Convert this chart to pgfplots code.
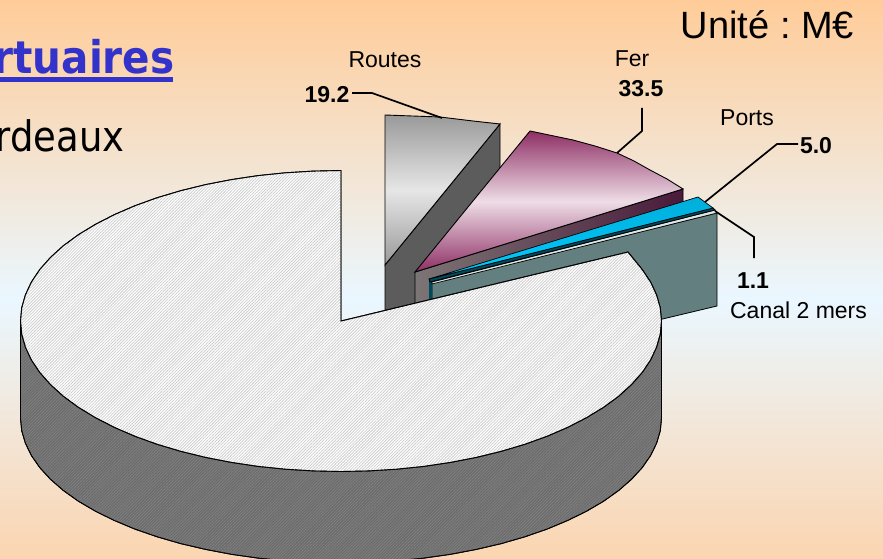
\documentclass[border=0pt]{standalone}
\usepackage{fontspec}
\usepackage{pgfplots}
\pgfplotsset{compat=1.18}
\usetikzlibrary{patterns.meta}
\setmainfont{Liberation Sans}
\newfontfamily\taho[FakeStretch=0.88]{DejaVu Sans}
\newfontfamily\tahob[FakeStretch=0.9]{DejaVu Sans Bold}
\frenchspacing
\definecolor{bgO}{HTML}{FFCC99}
\definecolor{bgB}{HTML}{EAF7FF}
\definecolor{bgE}{HTML}{FBD5B0}
\definecolor{linkb}{HTML}{3333CC}
\definecolor{plum}{HTML}{8E2F65}
\definecolor{plumL}{HTML}{EEDDE6}
\definecolor{plumD}{HTML}{4A1A3A}
\definecolor{greyW}{HTML}{7C7575}
\definecolor{teal1}{HTML}{637F7F}
\definecolor{teal2}{HTML}{004A5C}
\definecolor{cy1}{HTML}{00AEDB}
\definecolor{cy2}{HTML}{00CCFF}
\definecolor{grA}{HTML}{9A9A9A}
\definecolor{grB}{HTML}{E6E6E6}
\pgfdeclareverticalshading{plumsh}{100bp}{color(0bp)=(plum); color(25bp)=(plum); color(50bp)=(plumL); color(75bp)=(plum); color(100bp)=(plum)}
\pgfdeclareverticalshading{greysh}{100bp}{color(0bp)=(grA); color(25bp)=(grA); color(50bp)=(grB); color(75bp)=(grA); color(100bp)=(grA)}
\newcommand{\lab}[1]{\fontsize{23}{27}\selectfont #1}
\newcommand{\labb}[1]{\fontsize{23}{27}\selectfont\bfseries #1}
\begin{document}
\begin{tikzpicture}
\useasboundingbox (0,0) rectangle (883pt,559pt);
\clip (0,0) rectangle (883pt,559pt);
\shade[top color=bgO,bottom color=bgB] (0,259pt) rectangle (883pt,559pt);
\shade[top color=bgB,bottom color=bgE] (0,0) rectangle (883pt,259.5pt);
\begin{axis}[at={(0,0)},anchor=south west,scale only axis,width=883pt,height=559pt,
  xmin=0,xmax=883,ymin=0,ymax=559,y dir=reverse,hide axis,clip=true]
% Routes
\addplot[draw=black,line width=0.9pt,fill=black!64] coordinates {(385,265)(500,124)(500,224)(385,365)} -- cycle;
\addplot[draw=black,line width=0.9pt,shade,shading=greysh] coordinates {(385,265)(385,115)(440,117)(473,121)(500,124)} -- cycle;
% Fer
\addplot[draw=black,line width=0.9pt,left color=greyW,right color=plumD] coordinates {(415,272)(683,189)(683,289)(415,372)} -- cycle;
\addplot[draw=black,line width=0.9pt,shade,shading=plumsh] coordinates {(415,272)(530,131)(573,140)(595,146)(617,153)(634,161)(650,170)(667,179)(683,189)} -- cycle;
% Canal 2 mers
\addplot[draw=black,line width=0.8pt,fill=teal1] coordinates {(432,283)(717,213)(717,306)(650,322)(432,375)} -- cycle;
\addplot[draw=none,fill=teal2] coordinates {(429,279)(432,281)(432,375)(429,375)} -- cycle;
\addplot[draw=black,line width=0.7pt,fill=white!80!teal1] coordinates {(432,282)(715,210)(717,213)(432,284)} -- cycle;
% Ports
\addplot[draw=black,line width=0.8pt,fill=teal2] coordinates {(429,279)(713,208)(715,210)(430,282)} -- cycle;
\addplot[draw=black,line width=0.7pt,top color=cy1,bottom color=cy2] coordinates {(429,279)(698,197)(713,208)} -- cycle;
% main wall
\addplot[draw=black,line width=0.9pt,fill=black!58,postaction={pattern={Lines[angle=45,distance=2.1pt,line width=0.8pt]},pattern color=black!50}] coordinates {
(20.5,321)(20.5,418)(21.7,430.6)(25.4,443.2)(31.4,455.5)(39.8,467.6)(50.5,479.3)(63.4,490.5)(78.4,501.2)(95.5,511.2)(114.4,520.5)(135,529.1)(157.2,536.8)(180.7,543.6)(205.6,549.4)(231.4,554.3)(258.1,558.1)(285.3,560.8)(313.1,562.4)(341,563)(368.9,562.4)(396.7,560.8)(423.9,558.1)(450.6,554.3)(476.4,549.4)(501.3,543.6)(524.8,536.8)(547,529.1)(567.6,520.5)(586.5,511.2)(603.6,501.2)(618.6,490.5)(631.5,479.3)(642.2,467.6)(650.6,455.5)(656.6,443.2)(660.3,430.6)(661.5,418)(661.5,321)} -- cycle;
% main top
\addplot[draw=black,line width=0.9pt,fill=white,postaction={pattern={Lines[angle=45,distance=2.1pt,line width=0.8pt]},pattern color=black!19}] coordinates {
(341,321)(341,170.5)(313.1,171.1)(285.3,172.8)(258.1,175.6)(231.4,179.6)(205.6,184.6)(180.7,190.7)(157.2,197.7)(135,205.7)(114.4,214.6)(95.5,224.3)(78.4,234.7)(63.4,245.7)(50.5,257.4)(39.8,269.5)(31.4,282)(25.4,294.9)(21.7,307.9)(20.5,321)(21.7,334.1)(25.4,347.1)(31.4,360)(39.8,372.5)(50.5,384.6)(63.4,396.3)(78.4,407.3)(95.5,417.7)(114.4,427.4)(135,436.3)(157.2,444.3)(180.7,451.3)(205.6,457.4)(231.4,462.4)(258.1,466.4)(285.3,469.2)(313.1,470.9)(341,471.5)(368.9,470.9)(396.7,469.2)(423.9,466.4)(450.6,462.4)(476.4,457.4)(501.3,451.3)(524.8,444.3)(547,436.3)(567.6,427.4)(586.5,417.7)(603.6,407.3)(618.6,396.3)(631.5,384.6)(642.2,372.5)(650.6,360)(656.6,347.1)(660.3,334.1)(661.5,321)(660.3,307.9)(656.6,294.9)(650.6,282)(642.2,269.5)(628,252)} -- cycle;
% leaders
\addplot[black,line width=1.7pt] coordinates {(352,93)(372,93)(442,118)};
\addplot[black,line width=1.7pt] coordinates {(642,108)(642,131)(617,153)};
\addplot[black,line width=1.7pt] coordinates {(798,144)(777,144)(705,202)};
\addplot[black,line width=1.7pt] coordinates {(754,258)(754,237)(715,211)};
% underline
\addplot[linkb,line width=4.3pt] coordinates {(0,79.5)(173,79.5)};
\end{axis}
\begin{axis}[at={(0,0)},anchor=south west,scale only axis,width=883pt,height=559pt,
  xmin=0,xmax=883,ymin=0,ymax=559,y dir=reverse,hide axis,clip=false,
  every node/.append style={inner sep=0pt,outer sep=0pt}]
\node[anchor=base] at (axis cs:385,68) {\lab{Routes}};
\node[anchor=base] at (axis cs:632,67) {\lab{Fer}};
\node[anchor=base] at (axis cs:747,126) {\lab{Ports}};
\node[anchor=base] at (axis cs:798.5,319) {\lab{Canal 2 mers}};
\node[anchor=base] at (axis cs:327,103) {\labb{19.2}};
\node[anchor=base] at (axis cs:641,97) {\labb{33.5}};
\node[anchor=base] at (axis cs:816,154) {\labb{5.0}};
\node[anchor=base] at (axis cs:753,289) {\labb{1.1}};
\node[anchor=base] at (axis cs:767.5,39) {\fontsize{38}{42}\selectfont Unité : M€};
\node[anchor=base east] at (axis cs:178,74) {\fontsize{45}{48}\selectfont\tahob\textcolor{linkb}{ortuaires}};
\node[anchor=base east] at (axis cs:128,152) {\fontsize{42}{46}\selectfont\taho rdeaux};
\end{axis}
\end{tikzpicture}
\end{document}
